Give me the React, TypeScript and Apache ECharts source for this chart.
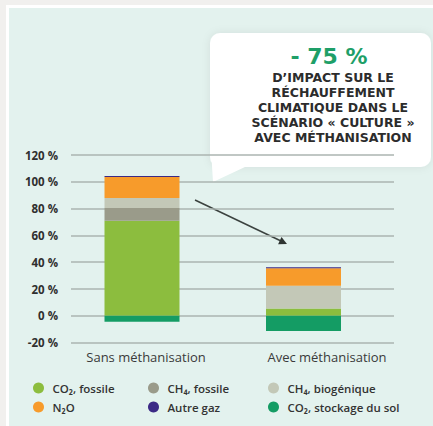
import React, { useEffect, useRef } from "react";
import * as echarts from "echarts";

const categories = ["Sans méthanisation", "Avec méthanisation"];
const yTicks = { min: -20, max: 120, interval: 20 };

const co2Fossile = [71, 5.5];
const ch4Fossile = [9.5, 0];
const ch4Biogenique = [7.5, 16.9];
const n2o = [15.5, 13];
const autreGaz = [0.8, 0.9];
const co2StockageSol = [-4.5, -11.4];

const seriesNames = [
  "CO₂, fossile",
  "CH₄, fossile",
  "CH₄, biogénique",
  "N₂O",
  "Autre gaz",
  "CO₂, stockage du sol",
];
const seriesColors = ["#8cbd3e", "#9a9b8a", "#c3c8b7", "#f79b2b", "#3c2a86", "#149c64"];
const seriesData = [co2Fossile, ch4Fossile, ch4Biogenique, n2o, autreGaz, co2StockageSol];

const calloutBig = "- 75 %";
const calloutLines = [
  "D’IMPACT SUR LE",
  "RÉCHAUFFEMENT",
  "CLIMATIQUE DANS LE",
  "SCÉNARIO « CULTURE »",
  "AVEC MÉTHANISATION",
];

const FONT = '"Open Sans", "DejaVu Sans", sans-serif';
const WIDE = '"DejaVu Sans", sans-serif';

export default function App() {
  const ref = useRef<HTMLDivElement>(null);
  useEffect(() => {
    if (!ref.current) return;
    const chart = echarts.init(ref.current, undefined, { renderer: "svg" });
    const top = 155;
    const height = 187.6;
    const legendText = {
      fontFamily: FONT,
      fontSize: 11.5,
      fontWeight: 600 as any,
      color: "#333",
    };
    const legendCommon = {
      orient: "vertical" as const,
      top: 377,
      itemWidth: 18,
      itemHeight: 11,
      itemGap: 7,
      icon: "circle",
      selectedMode: false,
      textStyle: legendText,
    };
    chart.setOption({
      animation: false,
      backgroundColor: "#f1f0ee",
      grid: [
        { left: 71, width: 323, top, height },
        { left: 61.25, width: 323, top, height },
        { left: 55.5, width: 362, top, height },
      ],
      xAxis: [
        { gridIndex: 0, type: "category", data: categories, show: false },
        { gridIndex: 1, type: "category", data: categories, show: false },
        {
          gridIndex: 2,
          type: "category",
          data: categories,
          axisLine: { show: false },
          axisTick: { show: false },
          axisLabel: {
            fontFamily: FONT,
            fontSize: 13,
            fontWeight: 500 as any,
            color: "#3a3a3a",
            margin: 8,
          },
        },
      ],
      yAxis: [
        {
          gridIndex: 0,
          type: "value",
          ...yTicks,
          axisLine: { show: false },
          axisTick: { show: false },
          splitLine: { lineStyle: { color: "#abb5b1", width: 1.5 } },
          axisLabel: {
            formatter: (v: number) => `${v} %`,
            fontFamily: FONT,
            fontSize: 11.5,
            fontWeight: "bold",
            color: "#2f2f2f",
            margin: 13,
          },
        },
        { gridIndex: 1, type: "value", ...yTicks, show: false },
        { gridIndex: 2, type: "value", ...yTicks, show: false },
      ],
      legend: [
        { ...legendCommon, left: 28, data: [seriesNames[0], seriesNames[3]] },
        { ...legendCommon, left: 143, data: [seriesNames[1], seriesNames[4]] },
        { ...legendCommon, left: 263, data: [seriesNames[2], seriesNames[5]] },
      ],
      series: seriesNames.map((name, i) => ({
        name,
        type: "bar",
        xAxisIndex: 1,
        yAxisIndex: 1,
        stack: "total",
        barWidth: 75,
        itemStyle: { color: seriesColors[i] },
        data: seriesData[i],
      })),
      graphic: [
        {
          type: "rect",
          z: -10,
          silent: true,
          shape: { x: 7.5, y: 6.5, width: 430, height: 425 },
          style: { fill: "#e3f2ee", stroke: "#ffffff", lineWidth: 3 },
        },
        {
          type: "group",
          z: 50,
          children: [
            {
              type: "rect",
              shape: { x: 210, y: 33, width: 221, height: 134, r: 10 },
              style: {
                fill: "#ffffff",
                shadowBlur: 8,
                shadowColor: "rgba(0,0,0,0.08)",
              },
            },
            {
              type: "polygon",
              shape: { points: [[211, 150], [246, 166.5], [213, 182]] },
              style: { fill: "#ffffff" },
            },
            {
              type: "text",
              x: 329,
              y: 56,
              style: {
                text: calloutBig,
                fill: "#1e9f68",
                font: `bold 22px ${WIDE}`,
                textAlign: "center",
                textVerticalAlign: "middle",
              },
            },
            {
              type: "text",
              x: 333,
              y: 107.5,
              style: {
                text: calloutLines.join("\n"),
                fill: "#2c2c2c",
                font: `bold 12.5px ${WIDE}`,
                lineHeight: 15.2,
                textAlign: "center",
                textVerticalAlign: "middle",
              },
            },
          ],
        },
        {
          type: "group",
          z: 40,
          children: [
            {
              type: "line",
              shape: { x1: 195, y1: 200, x2: 281, y2: 241 },
              style: { stroke: "#3b423f", lineWidth: 1.5 },
            },
            {
              type: "polygon",
              shape: { points: [[287, 244], [278.1, 244.2], [281.5, 236.9]] },
              style: { fill: "#2f3532" },
            },
          ],
        },
      ],
    });
    return () => chart.dispose();
  }, []);
  return (
    <div
      ref={ref}
      style={{ position: "fixed", left: 0, top: 0, width: 433, height: 426 }}
    />
  );
}
